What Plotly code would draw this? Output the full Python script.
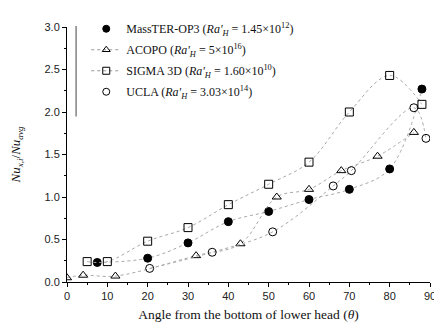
import plotly.graph_objects as go

# MassTER-OP3 (filled circles)
masster_x = [7.5, 20, 30, 40, 50, 60, 70, 80, 88]
masster_y = [0.23, 0.28, 0.46, 0.71, 0.83, 0.97, 1.09, 1.33, 2.27]

# ACOPO (open triangles)
acopo_x = [0, 4, 12, 32, 43, 52, 60, 68, 77, 86]
acopo_y = [0.05, 0.08, 0.07, 0.31, 0.45, 1.00, 1.09, 1.31, 1.48, 1.76]

# SIGMA 3D (open squares)
sigma_x = [5, 10, 20, 30, 40, 50, 60, 70, 80, 88]
sigma_y = [0.24, 0.24, 0.48, 0.64, 0.91, 1.15, 1.41, 2.00, 2.43, 2.09]

# UCLA (open circles)
ucla_x = [20.5, 36, 51, 66, 70.5, 86, 89]
ucla_y = [0.16, 0.35, 0.59, 1.13, 1.31, 2.05, 1.69]

names = [
    "MassTER-OP3 (<i>Ra'</i><sub><i>H</i></sub> = 1.45×10<sup>12</sup>)",
    "ACOPO (<i>Ra'</i><sub><i>H</i></sub> = 5×10<sup>16</sup>)",
    "SIGMA 3D (<i>Ra'</i><sub><i>H</i></sub> = 1.60×10<sup>10</sup>)",
    "UCLA (<i>Ra'</i><sub><i>H</i></sub> = 3.03×10<sup>14</sup>)",
]

series = [
    (masster_x, masster_y, "circle", False),
    (acopo_x, acopo_y, "triangle-up-open", True),
    (sigma_x, sigma_y, "square-open", True),
    (ucla_x, ucla_y, "circle-open", False),
]

line_style = dict(color="#a8a8a8", width=1, dash="dot", shape="spline", smoothing=1.0)

fig = go.Figure()
for (xs, ys, sym, leg_line), nm in zip(series, names):
    fig.add_trace(go.Scatter(
        x=xs, y=ys, mode="lines+markers", showlegend=False,
        line=line_style,
        marker=dict(symbol=sym, size=8, color="black", line=dict(color="black", width=1)),
    ))
for i, ((xs, ys, sym, leg_line), nm) in enumerate(zip(series, names)):
    fig.add_trace(go.Scatter(
        x=[None], y=[None], mode="lines+markers" if leg_line else "markers",
        name=nm, legendgroup="g%d" % i,
        line=dict(color="#999999", width=1, dash="dot"),
        marker=dict(symbol=sym, size=7, color="black", line=dict(color="black", width=1)),
    ))

axis_font = dict(family="Liberation Sans, Arial, sans-serif", size=11, color="#222")
serif = "Liberation Serif, Times New Roman, serif"

fig.update_layout(
    width=434, height=319,
    margin=dict(l=59, r=8, t=6, b=45),
    paper_bgcolor="white", plot_bgcolor="white",
    showlegend=True,
    legend=dict(
        x=0.053, y=1.05, xanchor="left", yanchor="top",
        bgcolor="rgba(0,0,0,0)",
        font=dict(family=serif, size=12, color="#111"),
        traceorder="grouped", tracegroupgap=2, itemwidth=30,
    ),
    xaxis=dict(
        range=[0, 90], tickmode="array", tickvals=list(range(0, 91, 10)),
        showline=True, linecolor="black", linewidth=1,
        ticks="outside", ticklen=4, tickcolor="black",
        minor=dict(ticks="outside", ticklen=2, tickcolor="black", dtick=5),
        showgrid=False, zeroline=False, tickfont=axis_font,
        title=dict(text="Angle from the bottom of lower head (<i>θ</i>)",
                   font=dict(family=serif, size=13.5, color="#111"),
                   standoff=8),
    ),
    yaxis=dict(
        range=[0, 3.0], tickmode="array", tickvals=[0, 0.5, 1.0, 1.5, 2.0, 2.5, 3.0],
        ticktext=["0.0", "0.5", "1.0", "1.5", "2.0", "2.5", "3.0"],
        showline=True, linecolor="black", linewidth=1,
        ticks="outside", ticklen=4, tickcolor="black",
        minor=dict(ticks="outside", ticklen=2, tickcolor="black", dtick=0.25),
        showgrid=False, zeroline=False, tickfont=axis_font,
        title=dict(text="<i>Nu</i><sub><i>x,i</i></sub>/<i>Nu</i><sub><i>avg</i></sub>",
                   font=dict(family=serif, size=13, color="#111"),
                   standoff=20),
    ),
    shapes=[dict(type="line", xref="paper", yref="paper", x0=0.025, x1=0.025,
                 y0=0.649, y1=1.004, line=dict(color="#444", width=1))],
)

fig.write_html("out.html")
